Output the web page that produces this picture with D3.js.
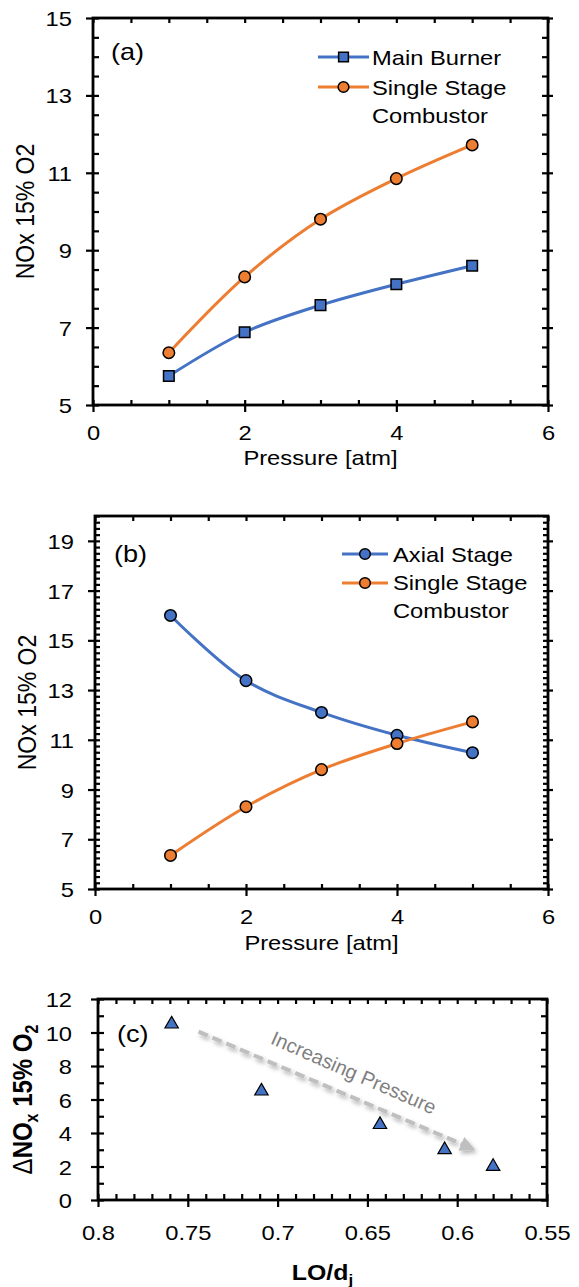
<!DOCTYPE html>
<html>
<head>
<meta charset="utf-8">
<script src="https://cdn.jsdelivr.net/npm/d3@7"></script>
<style>
  html, body { margin: 0; padding: 0; background: #fff; }
  svg { display: block; }
  text { font-family: "Liberation Sans", Arial, sans-serif; fill: #000; }
</style>
</head>
<body>
<svg id="fig" width="579" height="1287"></svg>
<script>
// ---- data ----
const pressure = [1, 2, 3, 4, 5];                       // atm
const mainBurner = [5.75, 6.88, 7.58, 8.12, 8.60];      // NOx @15% O2
const singleStage = [6.35, 8.31, 9.80, 10.85, 11.72];
const axialStage = [16.00, 13.38, 12.10, 11.18, 10.48];
const loOverDj = [0.759, 0.709, 0.643, 0.607, 0.580];
const deltaNOx = [10.5, 6.5, 4.5, 3.0, 2.0];

const pressureTicks = [0, 2, 4, 6];
const noxTicksA = [5, 7, 9, 11, 13, 15];
const noxTicksB = [5, 7, 9, 11, 13, 15, 17, 19];
const deltaTicks = [0, 2, 4, 6, 8, 10, 12];
const loTicks = [0.8, 0.75, 0.7, 0.65, 0.6, 0.55];

const arrowFrom = [0.744, 10.05];
const arrowTo = [0.590, 3.0];

// ---- styling ----
const BLUE = "#4472C4", ORANGE = "#ED7D31";
const S = 1.13;            // horizontal text stretch
const FS = 21;             // base font size

const svg = d3.select("#fig");
const defs = svg.append("defs");
defs.append("filter").attr("id", "soft").attr("x", "-20%").attr("y", "-20%")
  .attr("width", "140%").attr("height", "140%")
  .append("feDropShadow").attr("dx", 2).attr("dy", 3).attr("stdDeviation", 2)
  .attr("flood-color", "#000").attr("flood-opacity", 0.3);

function txt(g, str, x, y, o = {}) {
  const t = g.append("text")
    .attr("transform", `translate(${x},${y}) scale(${S},1)` + (o.rot ? ` rotate(${o.rot})` : ""))
    .attr("font-size", o.size || FS)
    .attr("text-anchor", o.anchor || "start");
  if (o.bold) t.attr("font-weight", "bold");
  if (o.fill) t.style("fill", o.fill);
  if (typeof str === "string") t.text(str);
  else str(t);
  return t;
}

function strip(sel) { sel.select(".domain").remove(); sel.selectAll("line").attr("stroke-width", 2.2); }

// Frame with crossing major ticks and inward minor ticks
function frame(g, x, y, o) {
  const [xl, xr] = x.range();
  const [yb, yt] = y.range();
  // inward ticks, four sides
  g.append("g").attr("transform", `translate(0,${yb})`)
    .call(d3.axisBottom(x).tickValues(o.xMinor).tickSize(-o.inB).tickFormat("")).call(strip);
  g.append("g").attr("transform", `translate(0,${yt})`)
    .call(d3.axisTop(x).tickValues(o.xMinorTop || o.xMinor).tickSize(-o.inT).tickFormat("")).call(strip);
  g.append("g").attr("transform", `translate(${xl},0)`)
    .call(d3.axisLeft(y).tickValues(o.yMinor).tickSize(-o.inL).tickFormat("")).call(strip);
  g.append("g").attr("transform", `translate(${xr},0)`)
    .call(d3.axisRight(y).tickValues(o.yMinor).tickSize(-o.inR).tickFormat("")).call(strip);
  if (o.rightOut) {
    g.append("g").attr("transform", `translate(${xr},0)`)
      .call(d3.axisRight(y).tickValues(o.yMajor).tickSize(o.rightOut).tickFormat("")).call(strip);
  }
  // outward major ticks with labels
  const ax = g.append("g").attr("transform", `translate(0,${yb})`)
    .call(d3.axisBottom(x).tickValues(o.xMajor).tickSize(7).tickFormat(o.xFmt)).call(strip);
  ax.attr("font-size", FS).attr("font-family", null);
  ax.selectAll("text").attr("dy", null).attr("y", o.xLabY).attr("transform", `scale(${S},1)`);
  const ay = g.append("g").attr("transform", `translate(${xl},0)`)
    .call(d3.axisLeft(y).tickValues(o.yMajor).tickSize(7).tickFormat(o.yFmt)).call(strip);
  ay.attr("font-size", FS).attr("font-family", null);
  ay.selectAll("text").attr("x", -o.yLabGap / S).attr("dy", "0.36em").attr("transform", `scale(${S},1)`);
  // border
  g.append("rect").attr("x", xl).attr("y", yt).attr("width", xr - xl).attr("height", yb - yt)
    .attr("fill", "none").attr("stroke", "#000").attr("stroke-width", 2.8);
}

const line = d3.line().curve(d3.curveCatmullRom.alpha(0.5));

function series(g, x, y, xs, ys, color, shape, size) {
  const pts = xs.map((v, i) => [x(v), y(ys[i])]);
  g.append("path").attr("d", line(pts)).attr("fill", "none")
    .attr("stroke", color).attr("stroke-width", 3);
  g.selectAll(null).data(pts).join("path")
    .attr("transform", d => `translate(${d[0]},${d[1]})`)
    .attr("d", d3.symbol(shape, size)())
    .attr("fill", color).attr("stroke", "#000").attr("stroke-width", 1.5);
}

function legendRow(g, x0, x1, yl, color, shape, size) {
  g.append("line").attr("x1", x0).attr("x2", x1).attr("y1", yl).attr("y2", yl)
    .attr("stroke", color).attr("stroke-width", 3);
  g.append("path").attr("transform", `translate(${(x0 + x1) / 2},${yl})`)
    .attr("d", d3.symbol(shape, size)())
    .attr("fill", color).attr("stroke", "#000").attr("stroke-width", 1.5);
}

const pressFmt = d3.format("d");

// ---------- (a) ----------
{
  const g = svg.append("g");
  const x = d3.scaleLinear().domain([0, 6]).range([93, 548]);
  const y = d3.scaleLinear().domain([5, 15]).range([405, 18]);
  frame(g, x, y, {
    xMajor: pressureTicks, xMinor: d3.range(0, 6.001, 0.5),
    yMajor: noxTicksA, yMinor: d3.range(5, 15.001, 0.5),
    inB: 5, inT: 5, inL: 6, inR: 6, rightOut: 5,
    xFmt: pressFmt, yFmt: pressFmt, xLabY: 35, yLabGap: 21
  });
  series(g, x, y, pressure, mainBurner, BLUE, d3.symbolSquare, 112);
  series(g, x, y, pressure, singleStage, ORANGE, d3.symbolCircle, 105);

  txt(g, "(a)", 111, 60, { size: 24 });
  legendRow(g, 318, 369, 57, BLUE, d3.symbolSquare, 95);
  legendRow(g, 318, 369, 87, ORANGE, d3.symbolCircle, 90);
  txt(g, "Main Burner", 372, 65);
  txt(g, "Single Stage", 372, 95);
  txt(g, "Combustor", 372, 123);

  txt(g, "Pressure [atm]", (x.range()[0] + x.range()[1]) / 2, 405 + 60, { anchor: "middle" });
  txt(g, "NOx 15% O2", 34, (405 + 18) / 2, { anchor: "middle", rot: -90, size: 23 });
}

// ---------- (b) ----------
{
  const g = svg.append("g");
  const x = d3.scaleLinear().domain([0, 6]).range([95, 548]);
  const y = d3.scaleLinear().domain([5, 20]).range([889, 516]);
  frame(g, x, y, {
    xMajor: pressureTicks, xMinor: d3.range(0, 6.001, 0.5),
    yMajor: noxTicksB, yMinor: d3.range(5, 20.001, 0.25),
    inB: 5, inT: 5, inL: 5, inR: 5, rightOut: 5,
    xFmt: pressFmt, yFmt: pressFmt, xLabY: 35, yLabGap: 21
  });
  series(g, x, y, pressure, axialStage, BLUE, d3.symbolCircle, 105);
  series(g, x, y, pressure, singleStage, ORANGE, d3.symbolCircle, 105);

  txt(g, "(b)", 114, 562, { size: 24 });
  legendRow(g, 342, 388, 554, BLUE, d3.symbolCircle, 90);
  legendRow(g, 342, 388, 583, ORANGE, d3.symbolCircle, 90);
  txt(g, "Axial Stage", 393, 562);
  txt(g, "Single Stage", 393, 590);
  txt(g, "Combustor", 393, 618);

  txt(g, "Pressure [atm]", (x.range()[0] + x.range()[1]) / 2, 889 + 61, { anchor: "middle" });
  txt(g, "NOx 15% O2", 36, (889 + 516) / 2, { anchor: "middle", rot: -90, size: 23 });
}

// ---------- (c) ----------
{
  const g = svg.append("g");
  const x = d3.scaleLinear().domain([0.8, 0.55]).range([98, 547]);
  const y = d3.scaleLinear().domain([0, 12]).range([1200, 999]);
  frame(g, x, y, {
    xMajor: loTicks, xMinor: d3.range(0.55, 0.8001, 0.01),
    yMajor: deltaTicks, yMinor: d3.range(0, 12.001, 1),
    inB: 6, inT: 5, inL: 6, inR: 6, rightOut: 0,
    xFmt: d => d3.format("")(+d.toFixed(2)), yFmt: pressFmt, xLabY: 40, yLabGap: 26
  });

  // trend arrow with soft shadow
  const p0 = [x(arrowFrom[0]), y(arrowFrom[1])];
  const p1 = [x(arrowTo[0]), y(arrowTo[1])];
  const ang = Math.atan2(p1[1] - p0[1], p1[0] - p0[0]);
  const ux = Math.cos(ang), uy = Math.sin(ang);
  const headL = 15, headW = 7.5;
  const base = [p1[0] - headL * ux, p1[1] - headL * uy];
  const ag = g.append("g").attr("filter", "url(#soft)");
  ag.append("line").attr("x1", p0[0]).attr("y1", p0[1]).attr("x2", base[0] + 2 * ux).attr("y2", base[1] + 2 * uy)
    .attr("stroke", "#BFBFBF").attr("stroke-width", 4).attr("stroke-dasharray", "10,5");
  ag.append("path").attr("d", d3.line()([
      p1,
      [base[0] - headW * uy, base[1] + headW * ux],
      [base[0] + headW * uy, base[1] - headW * ux]
    ]) + "Z").attr("fill", "#BFBFBF");
  const deg = ang * 180 / Math.PI;
  g.append("text").attr("transform", `translate(351,1079) rotate(${deg + 0.5})`)
    .attr("text-anchor", "middle").attr("font-size", 20).style("fill", "#7F7F7F")
    .text("Increasing Pressure");

  g.selectAll(null).data(loOverDj.map((v, i) => [x(v), y(deltaNOx[i])])).join("path")
    .attr("transform", d => `translate(${d[0]},${d[1]})`)
    .attr("d", d3.symbol(d3.symbolTriangle, 78)())
    .attr("fill", BLUE).attr("stroke", "#000").attr("stroke-width", 1.2);

  txt(g, "(c)", 117, 1042, { size: 24 });

  txt(g, t => {
    t.append("tspan").text("LO/d");
    t.append("tspan").attr("font-size", 15).attr("dy", 5).text("j");
  }, (x.range()[0] + x.range()[1]) / 2, 1280, { anchor: "middle", bold: true, size: 22 });

  txt(g, t => {
    t.append("tspan").attr("font-weight", "normal").text("\u0394");
    t.append("tspan").text("NO");
    t.append("tspan").attr("font-size", 16).attr("dy", 5).text("x");
    t.append("tspan").attr("dy", -5).text(" 15% O");
    t.append("tspan").attr("font-size", 16).attr("dy", 5).text("2");
  }, 32, (1200 + 999) / 2, { anchor: "middle", rot: -90, bold: true, size: 24 });
}
</script>
</body>
</html>
